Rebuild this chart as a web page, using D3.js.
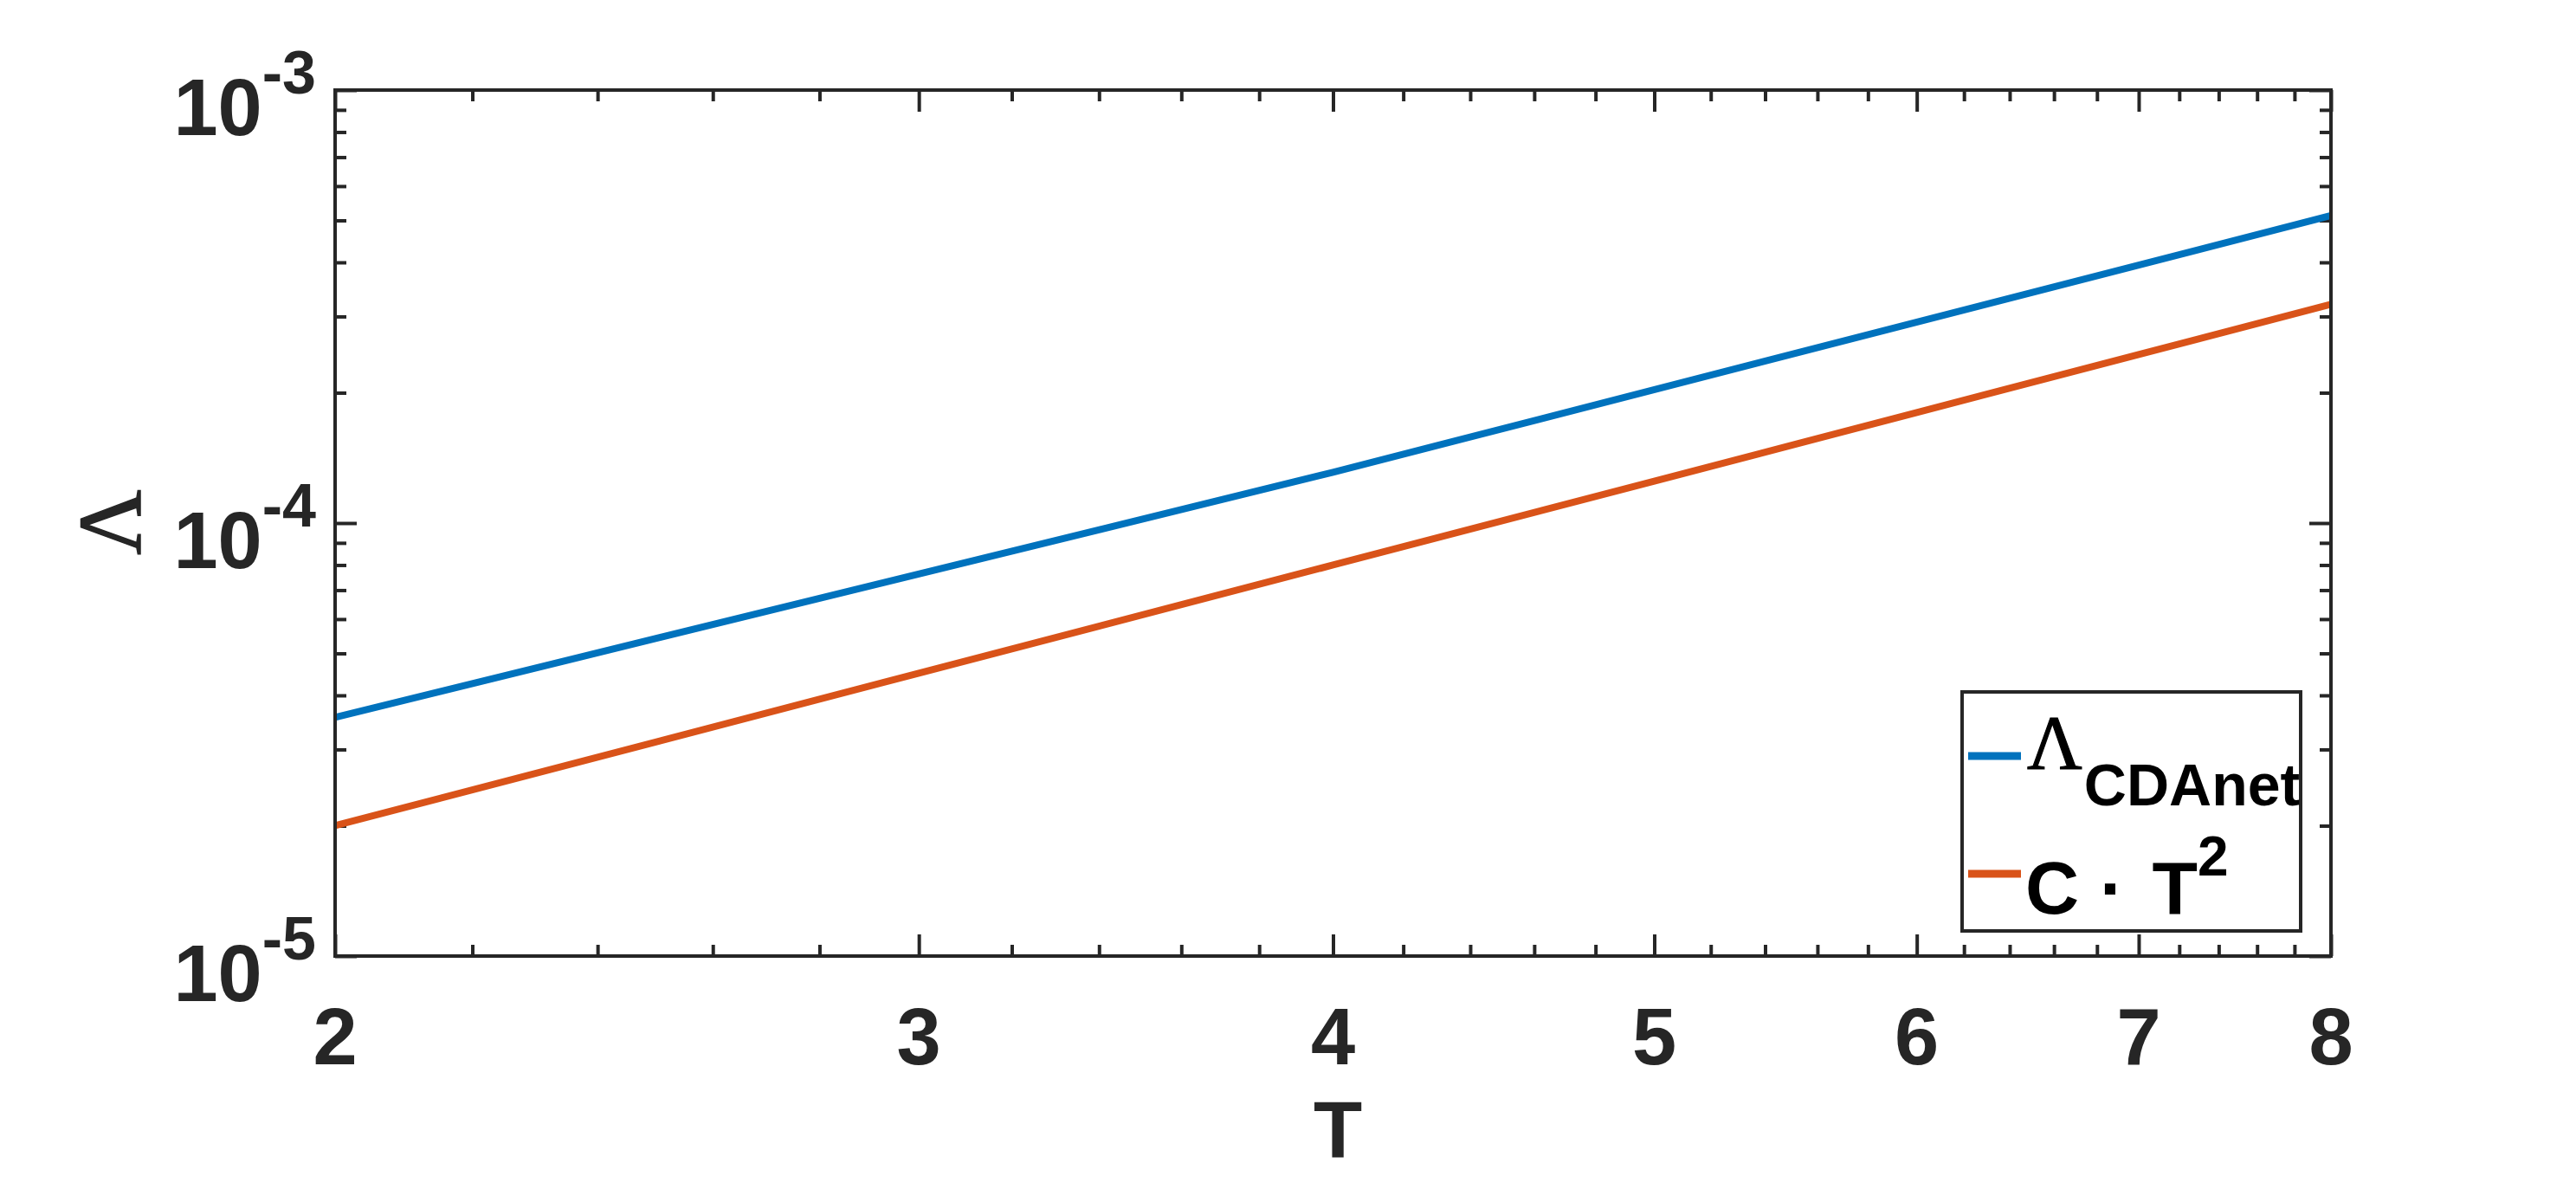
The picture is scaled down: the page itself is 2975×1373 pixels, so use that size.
<!DOCTYPE html>
<html>
<head>
<meta charset="utf-8">
<script src="https://cdn.jsdelivr.net/npm/d3@7"></script>
<style>
  html, body { margin: 0; padding: 0; background: #fff; }
  svg { display: block; }
  .tick-label { font-family: "Liberation Sans", Arial, sans-serif; font-weight: bold; fill: #262626; }
</style>
</head>
<body>
<svg id="chart" width="2975" height="1373"></svg>
<script>
// data
var tCDAnet = [2, 4, 8];
var lambdaCDAnet = [3.56e-5, 1.31e-4, 5.13e-4];
var tFit = [2, 3, 4, 5, 6, 7, 8];
var fitValues = [2.0e-5, 4.5e-5, 8.0e-5, 1.25e-4, 1.8e-4, 2.45e-4, 3.2e-4];
var xTicks = [2, 3, 4, 5, 6, 7, 8];
var xTickLabels = ['2', '3', '4', '5', '6', '7', '8'];
var yTicks = [1e-5, 1e-4, 1e-3];
var yTickExponents = ['-5', '-4', '-3'];

(function () {
    var svg = d3.select('#chart');
    // plot box in pixels
    var boxLeft = 387, boxRight = 2692, boxTop = 104, boxBottom = 1104;
    var axisColor = '#262626';

    var x = d3.scaleLog().domain([2, 8]).range([boxLeft, boxRight]);
    var y = d3.scaleLog().domain([1e-5, 1e-3]).range([boxBottom, boxTop]);

    // minor tick positions (log axes)
    var xMinor = [];
    for (var i = 2; i < 8; i++) {
        for (var k = 1; k < 5; k++) xMinor.push(i + k * 0.2);
    }
    var yMinor = [];
    [1e-5, 1e-4].forEach(function (d) {
        for (var m = 2; m < 10; m++) yMinor.push(d * m);
    });

    function drawAxis(axis, tx, ty) {
        var g = svg.append('g').attr('transform', 'translate(' + tx + ',' + ty + ')').call(axis);
        g.select('.domain').remove();
        g.selectAll('.tick line').attr('stroke', axisColor).attr('stroke-width', 4);
        g.selectAll('.tick text').remove();
    }

    // major and minor ticks, pointing inward, on all four sides
    var majorLen = 25, minorLen = 13;
    drawAxis(d3.axisBottom(x).tickValues(xTicks).tickSize(-majorLen), 0, boxBottom);
    drawAxis(d3.axisBottom(x).tickValues(xMinor).tickSize(-minorLen), 0, boxBottom);
    drawAxis(d3.axisTop(x).tickValues(xTicks).tickSize(-majorLen), 0, boxTop);
    drawAxis(d3.axisTop(x).tickValues(xMinor).tickSize(-minorLen), 0, boxTop);
    drawAxis(d3.axisLeft(y).tickValues(yTicks).tickSize(-majorLen), boxLeft, 0);
    drawAxis(d3.axisLeft(y).tickValues(yMinor).tickSize(-minorLen), boxLeft, 0);
    drawAxis(d3.axisRight(y).tickValues(yTicks).tickSize(-majorLen), boxRight, 0);
    drawAxis(d3.axisRight(y).tickValues(yMinor).tickSize(-minorLen), boxRight, 0);

    // series
    var line = d3.line()
        .x(function (d) { return x(d[0]); })
        .y(function (d) { return y(d[1]); });

    svg.append('path')
        .datum(d3.zip(tCDAnet, lambdaCDAnet))
        .attr('d', line)
        .attr('fill', 'none')
        .attr('stroke', '#0072BD')
        .attr('stroke-width', 8);

    svg.append('path')
        .datum(d3.zip(tFit, fitValues))
        .attr('d', line)
        .attr('fill', 'none')
        .attr('stroke', '#D95319')
        .attr('stroke-width', 8);

    // box
    svg.append('rect')
        .attr('x', boxLeft).attr('y', boxTop)
        .attr('width', boxRight - boxLeft).attr('height', boxBottom - boxTop)
        .attr('fill', 'none')
        .attr('stroke', axisColor)
        .attr('stroke-width', 4);

    // x tick labels
    svg.selectAll('.xlab').data(xTicks).enter().append('text')
        .attr('class', 'tick-label')
        .attr('x', function (d) { return x(d); })
        .attr('y', boxBottom + 125)
        .attr('text-anchor', 'middle')
        .attr('font-size', 92)
        .text(function (d, i) { return xTickLabels[i]; });

    // y tick labels: 10^n
    var ylab = svg.selectAll('.ylab').data(yTicks).enter().append('text')
        .attr('class', 'tick-label')
        .attr('x', 365)
        .attr('y', function (d) { return y(d) + 52; })
        .attr('text-anchor', 'end')
        .attr('font-size', 92);
    ylab.append('tspan').text('10');
    ylab.append('tspan')
        .attr('dy', -48)
        .attr('font-size', 70)
        .text(function (d, i) { return yTickExponents[i]; });

    // axis labels
    svg.append('text')
        .attr('class', 'tick-label')
        .attr('x', 1545).attr('y', 1337)
        .attr('text-anchor', 'middle')
        .attr('font-size', 92)
        .text('T');

    svg.append('text')
        .attr('transform', 'translate(162,603) rotate(-90)')
        .attr('text-anchor', 'middle')
        .attr('font-family', '"Liberation Serif", "Times New Roman", serif')
        .attr('font-size', 104)
        .attr('stroke', axisColor)
        .attr('stroke-width', 1.5)
        .attr('fill', axisColor)
        .text('\u039B');

    // legend
    var lg = svg.append('g');
    lg.append('rect')
        .attr('x', 2266).attr('y', 799)
        .attr('width', 391).attr('height', 276)
        .attr('fill', '#fff')
        .attr('stroke', axisColor)
        .attr('stroke-width', 4);

    lg.append('line')
        .attr('x1', 2273).attr('x2', 2334).attr('y1', 873).attr('y2', 873)
        .attr('stroke', '#0072BD').attr('stroke-width', 9);
    lg.append('line')
        .attr('x1', 2273).attr('x2', 2334).attr('y1', 1009).attr('y2', 1009)
        .attr('stroke', '#D95319').attr('stroke-width', 9);

    var t1 = lg.append('text').attr('x', 2341).attr('y', 887).attr('fill', '#000');
    t1.append('tspan')
        .attr('font-family', '"Liberation Serif", "Times New Roman", serif')
        .attr('font-size', 88)
        .attr('stroke', '#000')
        .attr('stroke-width', 1.2)
        .text('\u039B');
    t1.append('tspan')
        .attr('dy', 43)
        .attr('dx', 2)
        .attr('font-family', '"Liberation Sans", Arial, sans-serif')
        .attr('font-weight', 'bold')
        .attr('font-size', 68)
        .text('CDAnet');

    var t2 = lg.append('text')
        .attr('x', 2339).attr('y', 1055)
        .attr('fill', '#000')
        .attr('font-family', '"Liberation Sans", Arial, sans-serif')
        .attr('font-weight', 'bold')
        .attr('font-size', 86);
    t2.append('tspan').text('C \u00B7');
    t2.append('tspan').attr('dx', 8).text(' T');
    t2.append('tspan')
        .attr('dy', -44)
        .attr('font-size', 64)
        .text('2');
})();
</script>
</body>
</html>
